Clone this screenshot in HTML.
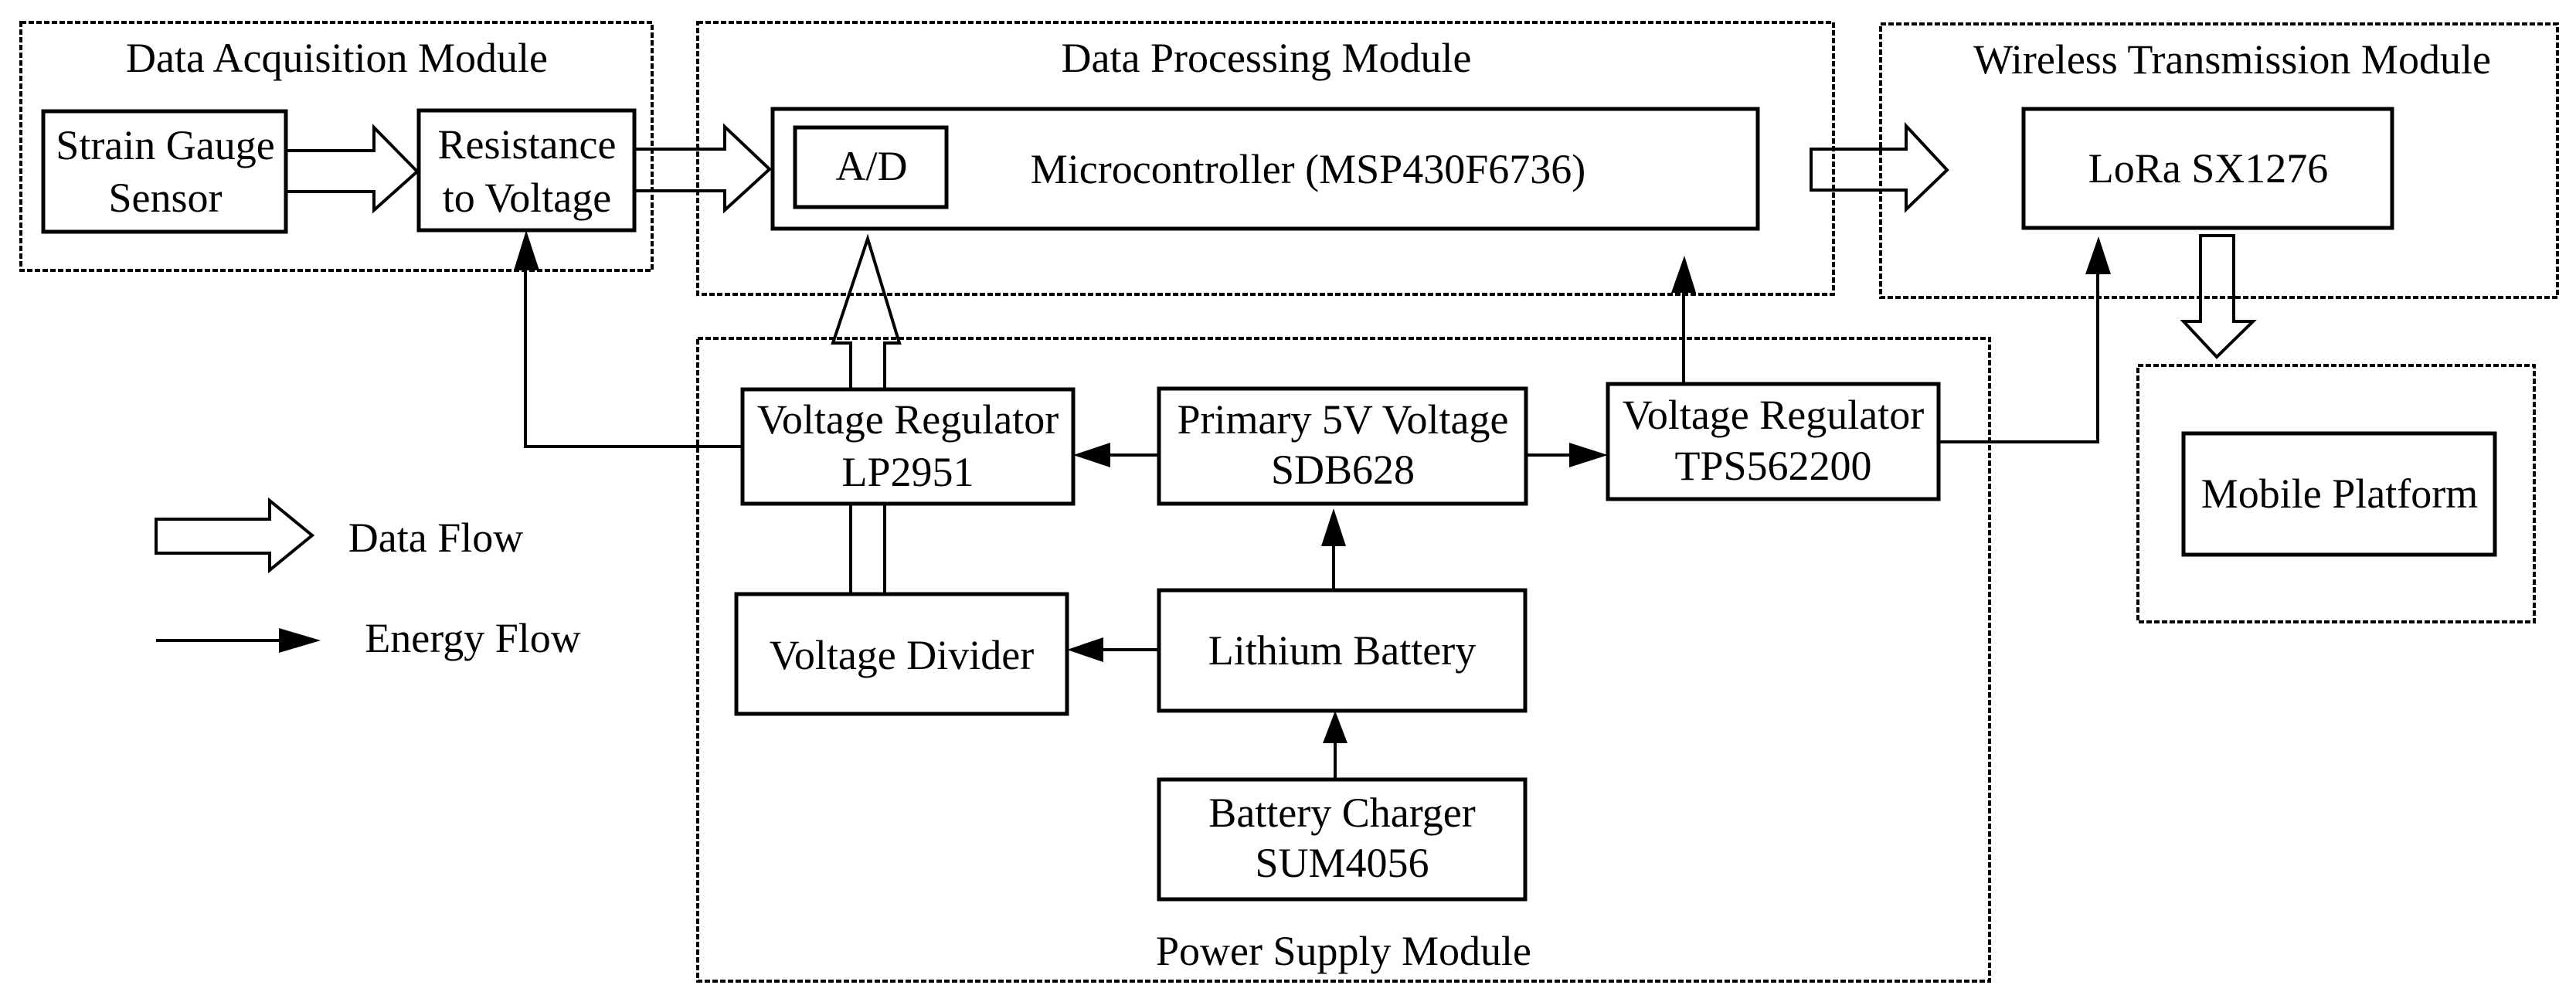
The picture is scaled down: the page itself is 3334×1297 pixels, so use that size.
<!DOCTYPE html>
<html><head><meta charset="utf-8"><style>
html,body{margin:0;padding:0;background:#fff;}
svg{display:block;}
text{font-family:"Liberation Serif",serif;font-size:54px;fill:#000;text-anchor:middle;}
.b{fill:#fff;stroke:#000;stroke-width:5;}
.d{fill:none;stroke:#000;stroke-width:4;stroke-dasharray:7 3;}
.h{fill:#fff;stroke:#000;stroke-width:4;stroke-linejoin:miter;}
.e{fill:none;stroke:#000;stroke-width:4;}
.a{fill:#000;stroke:none;}
</style></head><body>
<svg width="3334" height="1297" viewBox="0 0 3334 1297" xmlns="http://www.w3.org/2000/svg">
<polygon class="h" points="370,195 484,195 484,165 540,222 484,272 484,248 370,248"/>
<polygon class="h" points="821,193 938,193 938,164 996,219 938,272 938,247 821,247"/>
<polygon class="h" points="2344,193 2467,193 2467,163 2520,220 2467,271 2467,246 2344,246"/>
<polygon class="h" points="1101,504 1101,444 1078,444 1123,309 1164,444 1145,444 1145,504"/>
<polygon class="h" points="2848,305 2891,305 2891,416 2916,416 2869,462 2826,416 2848,416"/>
<line class="e" x1="1101" y1="652" x2="1101" y2="769"/>
<line class="e" x1="1145" y1="652" x2="1145" y2="769"/>

<rect class="d" x="27" y="29" width="817" height="321"/>
<rect class="d" x="903" y="29" width="1470" height="352"/>
<rect class="d" x="2434" y="31" width="876" height="354"/>
<rect class="d" x="903" y="438" width="1672" height="832"/>
<rect class="d" x="2767" y="473" width="513" height="332"/>

<text x="436" y="93">Data Acquisition Module</text>
<text x="1639" y="93">Data Processing Module</text>
<text x="2889" y="95">Wireless Transmission Module</text>
<text x="1739" y="1249">Power Supply Module</text>

<rect class="b" x="56" y="144" width="314" height="156"/>
<text x="214" y="206">Strain Gauge</text><text x="214" y="274">Sensor</text>
<rect class="b" x="542" y="143" width="279" height="155"/>
<text x="682" y="205">Resistance</text><text x="682" y="274">to Voltage</text>
<rect class="b" x="1000" y="141" width="1275" height="155"/>
<rect class="b" x="1029" y="165" width="196" height="103"/>
<text x="1128" y="233">A/D</text>
<text x="1693" y="237">Microcontroller (MSP430F6736)</text>
<rect class="b" x="2619" y="141" width="477" height="154"/>
<text x="2858" y="236">LoRa SX1276</text>
<rect class="b" x="2826" y="561" width="403" height="157"/>
<text x="3028" y="657">Mobile Platform</text>

<rect class="b" x="961" y="504" width="428" height="148"/>
<text x="1175" y="561">Voltage Regulator</text><text x="1175" y="629">LP2951</text>
<rect class="b" x="1500" y="503" width="475" height="149"/>
<text x="1738" y="561">Primary 5V Voltage</text><text x="1738" y="626">SDB628</text>
<rect class="b" x="2081" y="497" width="428" height="149"/>
<text x="2295" y="555">Voltage Regulator</text><text x="2295" y="621">TPS562200</text>
<rect class="b" x="953" y="769" width="428" height="155"/>
<text x="1167" y="866">Voltage Divider</text>
<rect class="b" x="1500" y="764" width="474" height="156"/>
<text x="1737" y="860">Lithium Battery</text>
<rect class="b" x="1500" y="1009" width="474" height="155"/>
<text x="1737" y="1070">Battery Charger</text><text x="1737" y="1135">SUM4056</text>

<polyline class="e" points="961,578 680,578 680,350"/>
<polygon class="a" points="665,350 698,350 681,298"/>
<line class="e" x1="1500" y1="589" x2="1435" y2="589"/>
<polygon class="a" points="1437,573 1437,605 1389,589"/>
<line class="e" x1="1975" y1="589" x2="2035" y2="589"/>
<polygon class="a" points="2031,573 2031,605 2081,589"/>
<line class="e" x1="1500" y1="841" x2="1425" y2="841"/>
<polygon class="a" points="1428,825 1428,857 1381,841"/>
<line class="e" x1="1726" y1="764" x2="1726" y2="700"/>
<polygon class="a" points="1710,707 1742,707 1726,658"/>
<line class="e" x1="1728" y1="1009" x2="1728" y2="955"/>
<polygon class="a" points="1712,962 1744,962 1728,920"/>
<line class="e" x1="2179" y1="497" x2="2179" y2="372"/>
<polygon class="a" points="2163,379 2195,379 2180,331"/>
<polyline class="e" points="2509,572 2715,572 2715,350"/>
<polygon class="a" points="2699,355 2732,355 2716,306"/>

<polygon class="h" points="202,672 349,672 349,648 404,693 349,738 349,716 202,716"/>
<text x="564" y="714">Data Flow</text>
<line class="e" x1="202" y1="829" x2="365" y2="829"/>
<polygon class="a" points="361,813 361,845 415,829"/>
<text x="612" y="844">Energy Flow</text>
</svg>
</body></html>
